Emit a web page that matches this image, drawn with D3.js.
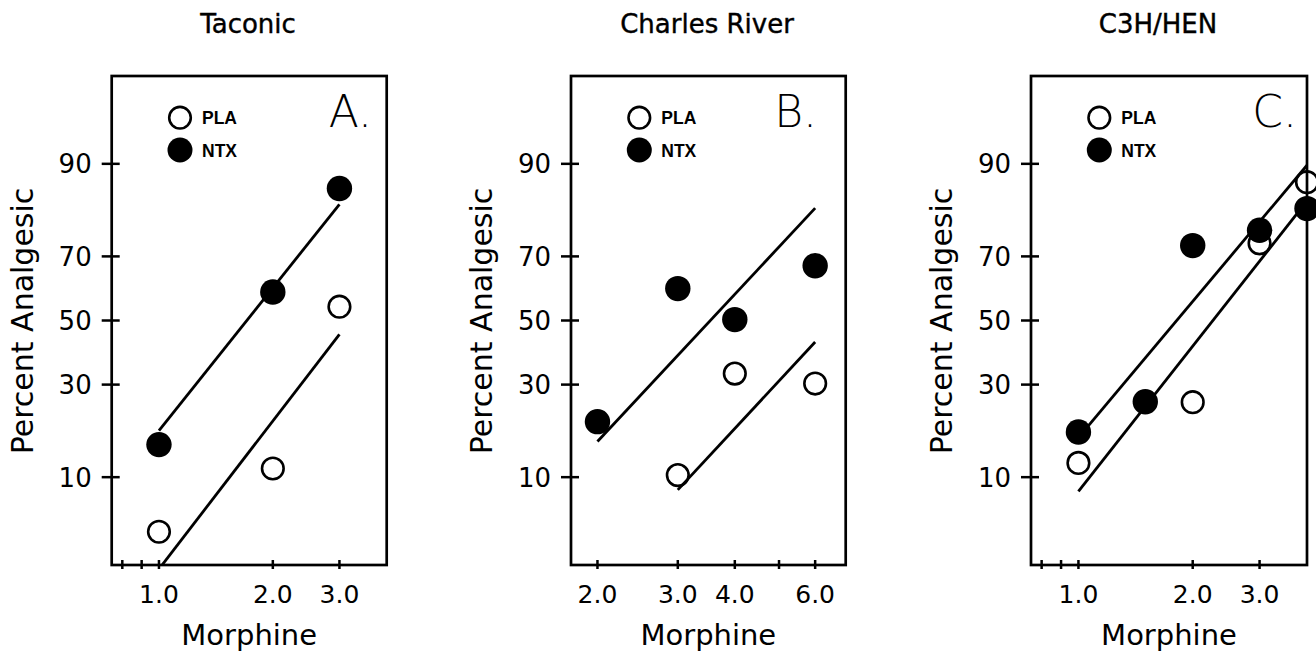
<!DOCTYPE html>
<html><head><meta charset="utf-8">
<script src="https://cdn.jsdelivr.net/npm/d3@7"></script>
<style>body{margin:0;background:#fff} svg{display:block}</style>
</head><body><svg id="c" width="1316" height="657"></svg>
<script>
// ---------- data ----------
const titles = ["Taconic", "Charles River", "C3H/HEN"];
const panelLetters = ["A.", "B.", "C."];
const legendLabels = ["PLA", "NTX"];
const yTickValues = [10, 30, 50, 70, 90];
const yLabel = "Percent Analgesic";
const xLabel = "Morphine";

// Panel A (Taconic)
const xMajorA = [1.0, 2.0, 3.0];
const xMinorA = [0.8, 0.9];
const plaDoseA = [1.0, 2.0, 3.0];
const plaPctA = [4.2, 11.3, 54.5];
const ntxDoseA = [1.0, 2.0, 3.0];
const ntxPctA = [15.5, 59.2, 86.0];
const fitPlaDoseA = [1.0, 3.0];
const fitPlaPctA = [2.1, 45.5];
const fitNtxDoseA = [1.0, 3.0];
const fitNtxPctA = [18.4, 82.9];

// Panel B (Charles River)
const xMajorB = [2.0, 3.0, 4.0, 6.0];
const xMinorB = [5.0];
const plaDoseB = [3.0, 4.0, 6.0];
const plaPctB = [10.3, 33.2, 30.3];
const ntxDoseB = [2.0, 3.0, 4.0, 6.0];
const ntxPctB = [20.4, 60.3, 50.3, 67.3];
const fitPlaDoseB = [3.0, 6.0];
const fitPlaPctB = [8.3, 43.0];
const fitNtxDoseB = [2.0, 6.0];
const fitNtxPctB = [16.1, 82.1];

// Panel C (C3H/HEN)
const xMajorC = [1.0, 2.0, 3.0];
const xMinorC = [0.8, 0.9];
const plaDoseC = [1.0, 2.0, 3.0, 4.0];
const plaPctC = [12.2, 25.2, 73.6, 87.1];
const ntxDoseC = [1.0, 1.5, 2.0, 3.0, 4.0];
const ntxPctC = [18.1, 25.3, 73.0, 77.0, 82.0];
const fitPlaDoseC = [1.0, 4.0];
const fitPlaPctC = [8.1, 83.6];
const fitNtxDoseC = [1.0, 4.0];
const fitNtxPctC = [16.9, 89.8];

// ---------- layout ----------
const plotTop = 76, plotBottom = 565;
const layout = [
  {left: 111.7, right: 386.7, xDomain: [0.75, 4], titleX: 248, letterX: 372, ylabX: 33},
  {left: 571, right: 845.7, xDomain: [1.75, 7], titleX: 707, letterX: 817, ylabX: 492},
  {left: 1031, right: 1307, xDomain: [0.75, 4], titleX: 1158, letterX: 1297, ylabX: 952}
];
const panelData = [
  {xMajor: xMajorA, xMinor: xMinorA, pla: [plaDoseA, plaPctA], ntx: [ntxDoseA, ntxPctA],
   fitPla: [fitPlaDoseA, fitPlaPctA], fitNtx: [fitNtxDoseA, fitNtxPctA]},
  {xMajor: xMajorB, xMinor: xMinorB, pla: [plaDoseB, plaPctB], ntx: [ntxDoseB, ntxPctB],
   fitPla: [fitPlaDoseB, fitPlaPctB], fitNtx: [fitNtxDoseB, fitNtxPctB]},
  {xMajor: xMajorC, xMinor: xMinorC, pla: [plaDoseC, plaPctC], ntx: [ntxDoseC, ntxPctC],
   fitPla: [fitPlaDoseC, fitPlaPctC], fitNtx: [fitNtxDoseC, fitNtxPctC]}
];

// inverse normal CDF (Acklam) for probit axis
function probit(p) {
  const a = [-3.969683028665376e+01, 2.209460984245205e+02, -2.759285104469687e+02, 1.383577518672690e+02, -3.066479806614716e+01, 2.506628277459239e+00];
  const b = [-5.447609879822406e+01, 1.615858368580409e+02, -1.556989798598866e+02, 6.680131188771972e+01, -1.328068155288572e+01];
  const c = [-7.784894002430293e-03, -3.223964580411365e-01, -2.400758277161838e+00, -2.549732539343734e+00, 4.374664141464968e+00, 2.938163982698783e+00];
  const d = [7.784695709041462e-03, 3.224671290700398e-01, 2.445134137142996e+00, 3.754408661907416e+00];
  const pl = 0.02425, ph = 1 - pl;
  let q, r;
  if (p < pl) { q = Math.sqrt(-2 * Math.log(p));
    return (((((c[0]*q+c[1])*q+c[2])*q+c[3])*q+c[4])*q+c[5]) / ((((d[0]*q+d[1])*q+d[2])*q+d[3])*q+1); }
  if (p <= ph) { q = p - 0.5; r = q*q;
    return (((((a[0]*r+a[1])*r+a[2])*r+a[3])*r+a[4])*r+a[5])*q / (((((b[0]*r+b[1])*r+b[2])*r+b[3])*r+b[4])*r+1); }
  q = Math.sqrt(-2 * Math.log(1 - p));
  return -(((((c[0]*q+c[1])*q+c[2])*q+c[3])*q+c[4])*q+c[5]) / ((((d[0]*q+d[1])*q+d[2])*q+d[3])*q+1);
}

const svg = d3.select("#c");
const zScale = d3.scaleLinear().domain([-2, 2]).range([plotBottom, plotTop]);
const yPos = v => zScale(probit(v / 100));
const FONT = "'DejaVu Sans', sans-serif";

layout.forEach((L, i) => {
  const D = panelData[i];
  const x = d3.scaleLog().domain(L.xDomain).range([L.left, L.right]);
  const g = svg.append("g");

  // title
  svg.append("text").attr("x", L.titleX).attr("y", 33).attr("text-anchor", "middle")
    .attr("font-family", FONT).attr("font-size", 26)
    .attr("stroke", "#000").attr("stroke-width", 0.4).text(titles[i]);

  // clip
  svg.append("clipPath").attr("id", "clip" + i).append("rect")
    .attr("x", L.left).attr("y", plotTop).attr("width", L.right - L.left).attr("height", plotBottom - plotTop);

  // frame
  g.append("rect").attr("x", L.left).attr("y", plotTop).attr("width", L.right - L.left)
    .attr("height", plotBottom - plotTop).attr("fill", "none").attr("stroke", "#000").attr("stroke-width", 2.7);

  // y ticks
  yTickValues.forEach(v => {
    const yy = yPos(v);
    g.append("line").attr("x1", L.left - 10).attr("x2", L.left + 8).attr("y1", yy).attr("y2", yy)
      .attr("stroke", "#000").attr("stroke-width", 2.5);
    g.append("text").attr("x", L.left - 20).attr("y", yy).attr("dy", "0.36em").attr("text-anchor", "end")
      .attr("font-family", FONT).attr("font-size", 26).text(v);
  });

  // x ticks
  D.xMajor.concat(D.xMinor).forEach(v => {
    g.append("line").attr("x1", x(v)).attr("x2", x(v)).attr("y1", plotBottom - 5).attr("y2", plotBottom + 4)
      .attr("stroke", "#000").attr("stroke-width", 2.5);
  });
  D.xMajor.forEach(v => {
    g.append("text").attr("x", x(v)).attr("y", 603).attr("text-anchor", "middle")
      .attr("font-family", FONT).attr("font-size", 25).text(d3.format(".1f")(v));
  });

  // axis labels
  svg.append("text").attr("x", (L.left + L.right) / 2).attr("y", 645).attr("text-anchor", "middle")
    .attr("font-family", FONT).attr("font-size", 29).text(xLabel);
  svg.append("text").attr("transform", `translate(${L.ylabX},321) rotate(-90)`).attr("text-anchor", "middle")
    .attr("font-family", FONT).attr("font-size", 30).text(yLabel);

  // panel letter
  g.append("text").attr("x", L.letterX).attr("y", 127).attr("text-anchor", "end")
    .attr("font-family", FONT).attr("font-weight", 200).attr("font-size", 44).text(panelLetters[i]);

  // legend
  const lx = L.left + 68.3;
  g.append("circle").attr("cx", lx).attr("cy", 117.7).attr("r", 10.8)
    .attr("fill", "#fff").attr("stroke", "#000").attr("stroke-width", 2.6);
  g.append("circle").attr("cx", lx).attr("cy", 150).attr("r", 12.5).attr("fill", "#000");
  g.append("text").attr("x", lx + 22).attr("y", 124).attr("font-family", "'Liberation Sans', Arial, sans-serif")
    .attr("font-weight", "bold").attr("font-size", 17.5).text(legendLabels[0]);
  g.append("text").attr("x", lx + 22).attr("y", 156.5).attr("font-family", "'Liberation Sans', Arial, sans-serif")
    .attr("font-weight", "bold").attr("font-size", 17.5).text(legendLabels[1]);

  // fit lines
  const line = d3.line().x(d => x(d[0])).y(d => yPos(d[1]));
  [D.fitPla, D.fitNtx].forEach(f => {
    const pts = f[0].map((dv, k) => [dv, f[1][k]]);
    g.append("path").attr("d", line(pts)).attr("clip-path", `url(#clip${i})`)
      .attr("fill", "none").attr("stroke", "#000").attr("stroke-width", 2.8);
  });

  // points
  const pla = D.pla[0].map((dv, k) => [dv, D.pla[1][k]]);
  const ntx = D.ntx[0].map((dv, k) => [dv, D.ntx[1][k]]);
  g.selectAll(null).data(pla).enter().append("circle")
    .attr("cx", d => x(d[0])).attr("cy", d => yPos(d[1])).attr("r", 10.8)
    .attr("fill", "none").attr("stroke", "#000").attr("stroke-width", 2.6);
  g.selectAll(null).data(ntx).enter().append("circle")
    .attr("cx", d => x(d[0])).attr("cy", d => yPos(d[1])).attr("r", 12.7).attr("fill", "#000");
});
</script>
</body></html>
